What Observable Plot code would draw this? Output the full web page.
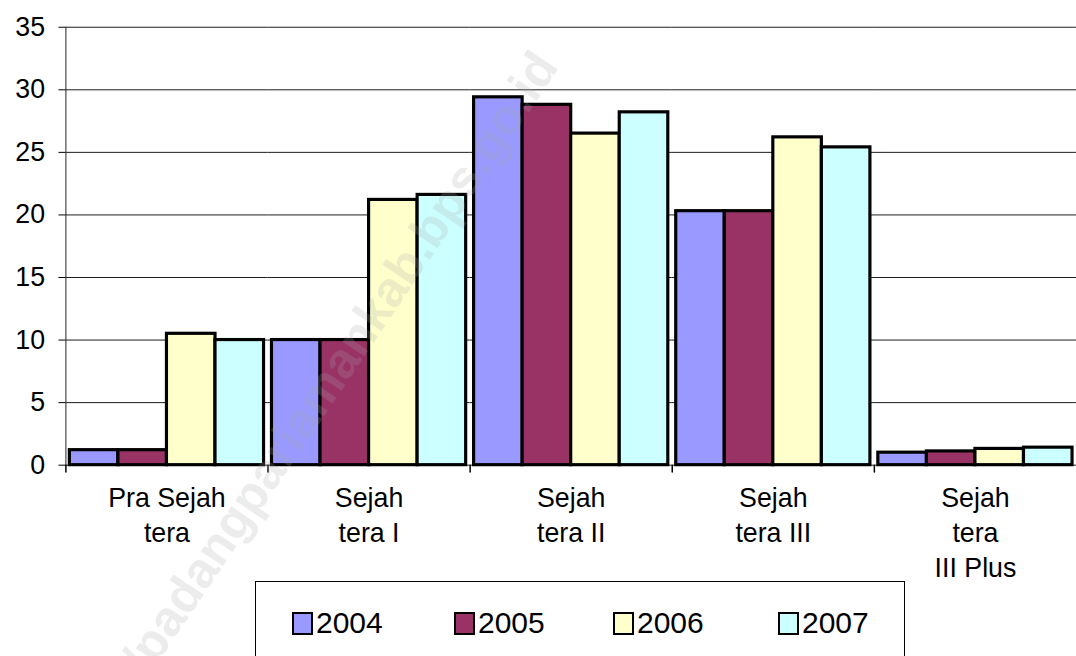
<!DOCTYPE html>
<html>
<head>
<meta charset="utf-8">
<script src="https://cdn.jsdelivr.net/npm/d3@7"></script>
<script src="https://cdn.jsdelivr.net/npm/@observablehq/plot@0.6"></script>
<style>
  html, body { margin: 0; padding: 0; background: #fff; overflow: hidden; width: 1076px; height: 656px; }
  #wrap { position: relative; width: 1076px; height: 656px; overflow: hidden; font-family: 'Liberation Sans', Arial, sans-serif; }
  #legend { position: absolute; left: 255px; top: 581px; width: 650px; height: 100px; border: 1px solid #000; box-sizing: border-box; background: #fff; }
  .item { position: absolute; top: 24px; font-size: 30px; line-height: 34px; color: #000; display: flex; align-items: center; }
  .sw { width: 17px; height: 19px; border: 2px solid #000; margin-right: 3px; }
  #wm { position: absolute; left: 0; top: 0; font: bold 50px 'Liberation Sans', Arial, sans-serif; color: rgba(170,170,170,0.22); white-space: nowrap; transform-origin: 0 0; pointer-events: none; }
</style>
</head>
<body>
<div id="wrap"></div>
<script>
const categories = ["Pra Sejah\ntera", "Sejah\ntera I", "Sejah\ntera II", "Sejah\ntera III", "Sejah\ntera\nIII Plus"];
const years = ["2004", "2005", "2006", "2007"];
const v2004 = [1.2, 10.0, 29.4, 20.3, 1.0];
const v2005 = [1.2, 10.0, 28.8, 20.3, 1.1];
const v2006 = [10.5, 21.2, 26.5, 26.2, 1.3];
const v2007 = [10.0, 21.6, 28.2, 25.4, 1.4];
const yTicks = [0, 5, 10, 15, 20, 25, 30, 35];
const colors = ["#9999FF", "#993366", "#FFFFCC", "#CCFFFF"];

const series = [v2004, v2005, v2006, v2007];
const table = [];
categories.forEach((c, i) => years.forEach((yr, j) => table.push({cat: c, year: yr, value: series[j][i]})));

const chart = Plot.plot({
  width: 1086,
  height: 656,
  marginLeft: 65,
  marginRight: 0,
  marginTop: 27,
  marginBottom: 187,
  style: {fontFamily: "'Liberation Sans', Arial, sans-serif", background: "transparent", color: "#000", overflow: "visible"},
  fx: {domain: categories, padding: 0, label: null},
  x: {domain: years, paddingInner: 0, paddingOuter: 0.08, axis: null},
  y: {domain: [0, 35], axis: null},
  color: {domain: years, range: colors},
  marks: [
    Plot.ruleY(yTicks, {stroke: "#1a1a1a", strokeWidth: 1}),
    Plot.barY(table, {fx: "cat", x: "year", y: "value", fill: "year", stroke: "#000", strokeWidth: 3.2}),
    Plot.axisY({ticks: yTicks, tickSize: 7, tickPadding: 14, fontSize: 27, label: null, stroke: "#000"}),
    Plot.axisFx({anchor: "bottom", tickSize: 0, tickPadding: 17, fontSize: 27, lineHeight: 1.31, label: null}),
    Plot.frame({anchor: "left", facetAnchor: "left", stroke: "#222"}),
    Plot.vector([0], {frameAnchor: "bottom-left", length: 7, rotate: 180, anchor: "start", stroke: "#000",
      shape: {draw(context, l) { context.moveTo(0, 0); context.lineTo(0, -l); }}})
  ]
});

const wrap = document.getElementById("wrap");
chart.style.position = "absolute";
chart.style.left = "0px";
chart.style.top = "0px";
wrap.appendChild(chart);

const legend = document.createElement("div");
legend.id = "legend";
const lx = [36, 198, 357, 522];
years.forEach((yr, j) => {
  const it = document.createElement("div");
  it.className = "item";
  it.style.left = lx[j] + "px";
  const sw = document.createElement("div");
  sw.className = "sw";
  sw.style.background = colors[j];
  const t = document.createElement("span");
  t.textContent = yr;
  it.appendChild(sw);
  it.appendChild(t);
  legend.appendChild(it);
});
wrap.appendChild(legend);

const wm = document.createElement("div");
wm.id = "wm";
wm.textContent = "http://padangpariamankab.bps.go.id";
wm.style.left = "40px";
wm.style.top = "755px";
wm.style.transform = "rotate(-56deg)";
wrap.appendChild(wm);
</script>
</body>
</html>
